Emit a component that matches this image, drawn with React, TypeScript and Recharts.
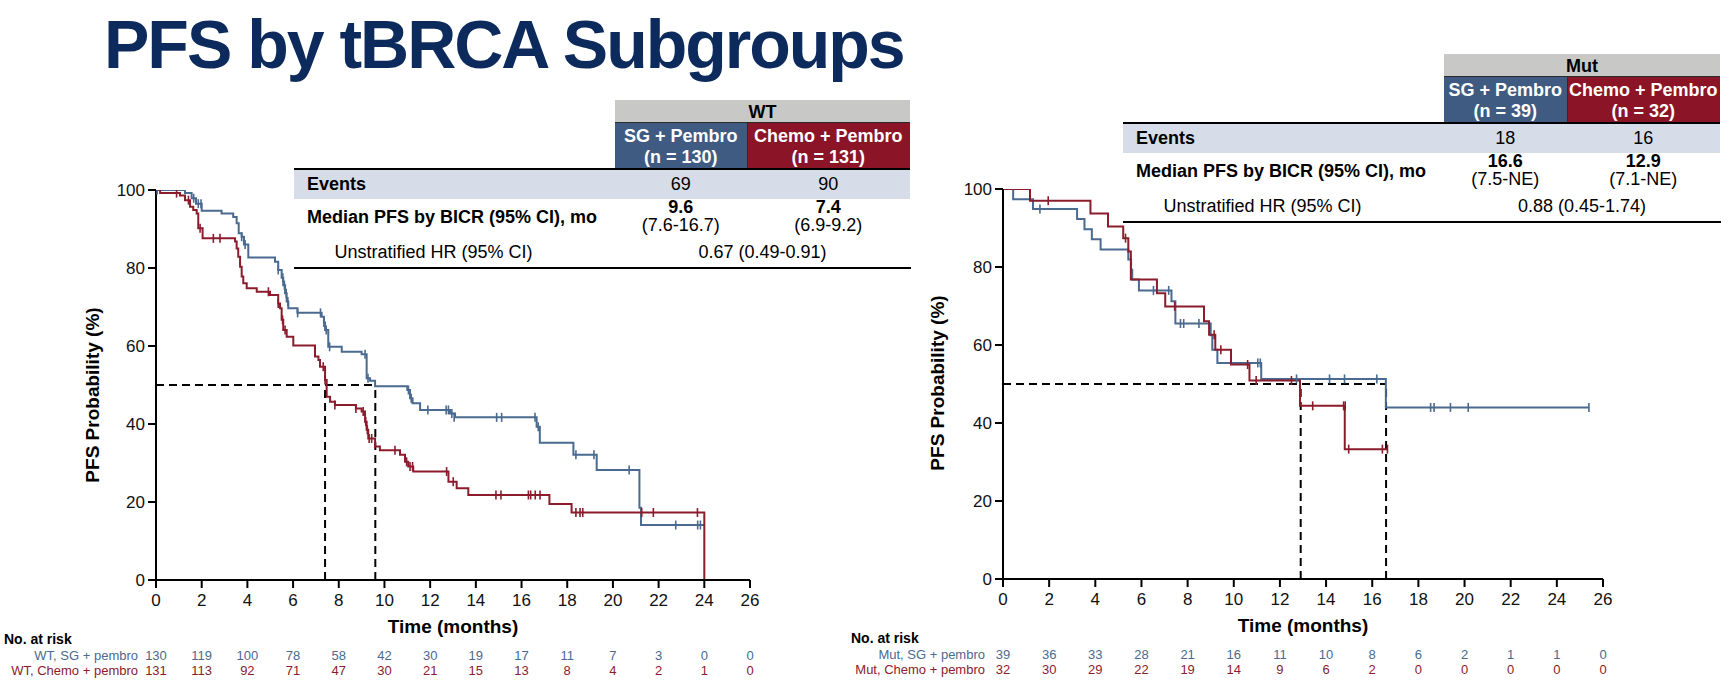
import React from 'react'
import { ComposedChart, Line, Scatter, XAxis, YAxis, ReferenceLine } from 'recharts'

const FONT = '"Liberation Sans", Arial, Helvetica, sans-serif'
const NAVY = '#0c2a5b'
const BLUE = '#4a6a90'
const RED = '#8a1c2c'
const HEAD_BLUE = '#3f5b82'
const HEAD_RED = '#8b1526'
const HEAD_GRAY = '#c8c9c7'
const BAND = '#d6dde8'

const monthTicks = [0, 2, 4, 6, 8, 10, 12, 14, 16, 18, 20, 22, 24, 26]
const pctTicks = [0, 20, 40, 60, 80, 100]

// KM steps: [month, PFS %] -- survival drops to the value at that month
const wtSgSteps: [number, number][] = [
  [0, 100], [1.27, 99.2], [1.56, 97.9], [1.75, 96.5], [2.0, 94.7], [2.87, 94.0], [3.38, 93.1],
  [3.53, 91.5], [3.62, 88.9], [3.75, 88.0], [3.85, 86.0], [4.04, 82.7], [5.21, 81.6], [5.35, 79.5],
  [5.5, 77.5], [5.57, 75.6], [5.65, 73.5], [5.72, 71.4], [5.79, 69.7], [6.19, 68.5], [7.25, 67.5],
  [7.35, 66.0], [7.4, 64.1], [7.54, 59.8], [8.13, 58.5], [9.0, 57.9], [9.22, 51.7], [9.37, 51.1],
  [9.59, 49.7], [11.0, 48.7], [11.12, 46.6], [11.23, 45.3], [11.56, 43.6], [12.87, 42.7],
  [13.09, 41.7], [16.66, 39.3], [16.8, 35.2], [18.27, 32.1], [19.29, 28.2], [21.16, 18.5],
  [21.23, 14.1], [24.0, 14.1],
]
const wtChemoSteps: [number, number][] = [
  [0, 100], [0.18, 99.2], [1.05, 98.6], [1.27, 97.4], [1.49, 95.7], [1.63, 94.9], [1.78, 94.0],
  [1.85, 90.2], [2.04, 87.6], [3.46, 86.8], [3.53, 85.0], [3.6, 82.9], [3.68, 80.3], [3.75, 77.8],
  [3.82, 76.1], [3.97, 74.8], [4.41, 73.9], [4.99, 73.1], [5.35, 70.9], [5.43, 69.7], [5.5, 66.7],
  [5.57, 64.1], [5.72, 62.4], [6.01, 60.1], [6.96, 57.3], [7.11, 56.4], [7.18, 54.7], [7.4, 51.3],
  [7.47, 47.0], [7.62, 45.7], [7.83, 44.9], [8.75, 44.0], [9.0, 43.2], [9.15, 40.6], [9.22, 38.5],
  [9.29, 36.3], [9.59, 34.2], [9.8, 33.3], [10.68, 32.1], [10.9, 30.3], [11.04, 29.1],
  [11.26, 27.8], [12.8, 25.2], [13.16, 23.5], [13.67, 21.8], [17.22, 19.5], [18.19, 17.3],
  [24.0, 0],
]
const mutSgSteps: [number, number][] = [
  [0, 100], [0.44, 97.4], [1.3, 94.9], [3.21, 92.3], [3.53, 89.7], [3.85, 87.1], [4.23, 84.5],
  [5.43, 81.9], [5.55, 79.3], [5.6, 76.8], [5.89, 74.0], [7.3, 71.2], [7.47, 65.5], [9.0, 62.5],
  [9.07, 58.8], [9.29, 55.4], [11.19, 51.3], [16.59, 44.0], [25.4, 44.0],
]
const mutChemoSteps: [number, number][] = [
  [0, 100], [1.17, 97.0], [3.79, 93.7], [4.55, 90.4], [5.21, 87.4], [5.43, 84.0], [5.54, 76.8],
  [6.67, 73.3], [7.03, 69.9], [8.71, 66.1], [8.93, 62.6], [9.2, 58.8], [9.88, 55.0],
  [10.68, 50.9], [12.87, 44.4], [14.81, 33.3], [16.68, 33.3],
]

// censored patients
const wtSgCensored: [number, number][] = [
  [0.05, 100], [1.65, 97.9], [1.85, 96.5], [1.97, 96.5], [3.75, 88.0], [3.9, 86.0], [5.35, 79.5],
  [5.55, 77.5], [5.62, 75.6], [5.7, 73.5], [5.77, 71.4], [6.2, 68.5], [7.2, 68.5], [7.35, 66.0],
  [7.45, 64.1], [7.6, 59.8], [9.15, 57.9], [9.28, 51.7], [11.05, 48.7], [11.17, 46.6],
  [11.9, 43.6], [12.7, 43.6], [12.8, 43.6], [12.95, 42.7], [13.05, 41.7], [14.91, 41.7],
  [15.13, 41.7], [16.59, 41.7], [16.73, 39.3], [18.38, 32.1], [19.17, 32.1], [20.71, 28.2],
  [22.75, 14.1], [23.71, 14.1], [23.83, 14.1],
]
const wtChemoCensored: [number, number][] = [
  [0.9, 99.2], [1.42, 97.4], [1.93, 90.2], [2.51, 87.6], [2.8, 87.6], [4.92, 73.9], [5.35, 70.9],
  [5.54, 66.7], [5.65, 64.1], [7.32, 54.7], [7.4, 51.3], [7.83, 44.9], [8.75, 44.0], [9.07, 43.2],
  [9.18, 40.6], [9.25, 38.5], [9.33, 36.3], [9.44, 36.3], [10.46, 33.3], [10.97, 30.3],
  [11.12, 29.1], [11.23, 29.1], [12.72, 27.8], [13.01, 25.2], [14.88, 21.8], [15.1, 21.8],
  [16.3, 21.8], [16.4, 21.8], [16.6, 21.8], [16.81, 21.8], [18.38, 17.3], [18.56, 17.3],
  [18.68, 17.3], [21.26, 17.3], [21.77, 17.3], [23.7, 17.3],
]
const mutSgCensored: [number, number][] = [
  [1.6, 94.9], [6.52, 74.0], [7.18, 74.0], [7.69, 65.5], [7.83, 65.5], [8.49, 65.5],
  [11.04, 55.4], [11.15, 55.4], [12.72, 51.3], [14.15, 51.3], [14.8, 51.3], [16.2, 51.3],
  [18.53, 44.0], [18.68, 44.0], [19.39, 44.0], [20.16, 44.0], [25.39, 44.0],
]
const mutChemoCensored: [number, number][] = [
  [1.96, 97.0], [5.31, 87.4], [7.44, 69.9], [9.15, 62.6], [9.44, 58.8], [10.6, 55.0],
  [10.97, 50.9], [12.5, 50.9], [13.42, 44.4], [14.76, 44.4], [14.83, 44.4], [14.98, 33.3],
  [16.44, 33.3], [16.66, 33.3],
]

// number at risk, one per month tick
const wtSgAtRisk = [130, 119, 100, 78, 58, 42, 30, 19, 17, 11, 7, 3, 0, 0]
const wtChemoAtRisk = [131, 113, 92, 71, 47, 30, 21, 15, 13, 8, 4, 2, 1, 0]
const mutSgAtRisk = [39, 36, 33, 28, 21, 16, 11, 10, 8, 6, 2, 1, 1, 0]
const mutChemoAtRisk = [32, 30, 29, 22, 19, 14, 9, 6, 2, 0, 0, 0, 0, 0]

// medians (months): [SG, Chemo]
const wtMedians = [9.6, 7.4]
const mutMedians = [16.6, 12.9]

// summary tables
const wtN = [130, 131]
const wtEvents = [69, 90]
const wtMedianText = ['9.6', '7.4']
const wtMedianCi = ['(7.6-16.7)', '(6.9-9.2)']
const wtHr = '0.67 (0.49-0.91)'
const mutN = [39, 32]
const mutEvents = [18, 16]
const mutMedianText = ['16.6', '12.9']
const mutMedianCi = ['(7.5-NE)', '(7.1-NE)']
const mutHr = '0.88 (0.45-1.74)'

const toPts = (a: [number, number][]) => a.map(([t, s]) => ({ t, s }))

interface Series {
  label: string
  color: string
  steps: [number, number][]
  censored: [number, number][]
  atRisk: number[]
}

interface PanelProps {
  left: number
  top: number
  width: number
  marginRight: number
  yAxisWidth: number
  yTitleX: number
  yTitleDy: number
  series: Series[]
  medians: number[]
}

const KMPanel: React.FC<PanelProps> = ({ left, top, width, marginRight, yAxisWidth, yTitleX, yTitleDy, series, medians }) => {
  const plotH = 390
  const xAxisH = 107
  const height = 20 + plotH + xAxisH

  const renderTick = (p: any) => {
    const idx = monthTicks.indexOf(p.payload.value)
    return (
      <g>
        <text x={p.x} y={p.y + 12} textAnchor="middle" dominantBaseline="central" fontSize={17} fill="#111" fontFamily={FONT}>
          {p.payload.value}
        </text>
        {idx === 0 && (
          <text x={p.x - 152} y={p.y + 51} dominantBaseline="central" fontSize={14} fontWeight="bold" fill="#000" fontFamily={FONT}>
            No. at risk
          </text>
        )}
        {series.map((s, i) => (
          <g key={i}>
            {idx === 0 && (
              <text x={p.x - 18} y={p.y + 67 + i * 15} textAnchor="end" dominantBaseline="central" fontSize={13} fill={s.color} fontFamily={FONT}>
                {s.label}
              </text>
            )}
            <text x={p.x} y={p.y + 67 + i * 15} textAnchor="middle" dominantBaseline="central" fontSize={13} fill={s.color} fontFamily={FONT}>
              {s.atRisk[idx]}
            </text>
          </g>
        ))}
      </g>
    )
  }

  const xTitle = (p: any) => {
    const vb = p.viewBox || { x: yAxisWidth, y: 20 + plotH, width: width - yAxisWidth - marginRight }
    return (
      <text x={vb.x + vb.width / 2} y={vb.y + 46} textAnchor="middle" dominantBaseline="central" fontSize={19} fontWeight="bold" fill="#000" fontFamily={FONT}>
        Time (months)
      </text>
    )
  }

  const yTitle = (p: any) => {
    const vb = p.viewBox || { x: 0, y: 20, height: plotH }
    const cx = vb.x + yTitleX
    const cy = vb.y + vb.height / 2 + yTitleDy
    return (
      <text x={cx} y={cy} transform={`rotate(-90, ${cx}, ${cy})`} textAnchor="middle" dominantBaseline="central" fontSize={19} fontWeight="bold" fill="#000" fontFamily={FONT}>
        PFS Probability (%)
      </text>
    )
  }

  const censorMark = (color: string) => (p: any) => (
    <line x1={p.cx} x2={p.cx} y1={p.cy - 4.5} y2={p.cy + 4.5} stroke={color} strokeWidth={1.6} />
  )

  return (
    <div style={{ position: 'absolute', left, top }}>
      <ComposedChart width={width} height={height} margin={{ top: 20, right: marginRight, left: 0, bottom: 0 }}>
        <XAxis
          dataKey="t"
          type="number"
          domain={[0, 26]}
          ticks={monthTicks}
          interval={0}
          allowDataOverflow
          height={xAxisH}
          tickSize={8}
          tickMargin={0}
          axisLine={{ stroke: '#000', strokeWidth: 2 }}
          tickLine={{ stroke: '#000', strokeWidth: 2 }}
          tick={renderTick}
          label={xTitle}
        />
        <YAxis
          type="number"
          domain={[0, 100]}
          ticks={pctTicks}
          interval={0}
          allowDataOverflow
          width={yAxisWidth}
          tickSize={8}
          tickMargin={3}
          axisLine={{ stroke: '#000', strokeWidth: 2 }}
          tickLine={{ stroke: '#000', strokeWidth: 2 }}
          tick={{ fontSize: 17, fill: '#111', fontFamily: FONT }}
          label={yTitle}
        />
        <ReferenceLine
          segment={[{ x: 0, y: 50 }, { x: Math.max(...medians), y: 50 }]}
          stroke="#000"
          strokeWidth={2}
          strokeDasharray="8 5"
          ifOverflow="visible"
        />
        {medians.map((m, i) => (
          <ReferenceLine
            key={`med-${i}`}
            segment={[{ x: m, y: 0 }, { x: m, y: 50 }]}
            stroke="#000"
            strokeWidth={2}
            strokeDasharray="8 5"
            ifOverflow="visible"
          />
        ))}
        {series.map((s, i) => (
          <Line
            key={`line-${i}`}
            data={toPts(s.steps)}
            dataKey="s"
            type="stepAfter"
            stroke={s.color}
            strokeWidth={2}
            dot={false}
            activeDot={false}
            isAnimationActive={false}
          />
        ))}
        {series.map((s, i) => (
          <Scatter
            key={`cens-${i}`}
            data={toPts(s.censored)}
            dataKey="s"
            shape={censorMark(s.color)}
            isAnimationActive={false}
          />
        ))}
      </ComposedChart>
    </div>
  )
}

interface TableProps {
  L: number
  lineX: number
  colStart: number
  colMid: number
  colEnd: number
  group: string
  n: number[]
  events: number[]
  median: string[]
  ci: string[]
  hr: string
}

const Txt: React.FC<{ x: number; y: number; size?: number; bold?: boolean; color?: string; center?: boolean; children: React.ReactNode }> = ({
  x, y, size = 18, bold = false, color = '#000', center = false, children,
}) => (
  <div
    style={{
      position: 'absolute',
      left: x,
      top: y - size,
      height: size * 2,
      lineHeight: `${size * 2}px`,
      fontSize: size,
      fontWeight: bold ? 'bold' : 'normal',
      color,
      whiteSpace: 'nowrap',
      transform: center ? 'translateX(-50%)' : undefined,
    }}
  >
    {children}
  </div>
)

const SummaryTable: React.FC<TableProps> = ({ L, lineX, colStart, colMid, colEnd, group, n, events, median, ci, hr }) => {
  const c1 = (colStart + colMid) / 2
  const c2 = (colMid + colEnd) / 2
  const cAll = (colStart + colEnd) / 2
  const box = (x: number, y: number, w: number, h: number, bg: string) => (
    <div style={{ position: 'absolute', left: x, top: y, width: w, height: h, background: bg }} />
  )
  return (
    <>
      {box(colStart, L - 68.5, colEnd - colStart, 68, '#2b2b2b')}
      {box(colStart, L - 68.5, colEnd - colStart, 22, HEAD_GRAY)}
      {box(colStart, L - 45.5, colMid - colStart, 45, HEAD_BLUE)}
      {box(colMid + 1, L - 45.5, colEnd - colMid - 1, 45, HEAD_RED)}
      {box(lineX, L - 1, colEnd - lineX, 2.2, '#000')}
      {box(lineX, L + 1, colEnd - lineX, 29.5, BAND)}
      {box(lineX, L + 98, colEnd - lineX + 1, 2, '#000')}
      <Txt x={cAll} y={L - 57} bold center>{group}</Txt>
      <Txt x={c1} y={L - 33} bold center color="#fff">SG + Pembro</Txt>
      <Txt x={c1} y={L - 12} bold center color="#fff">{`(n = ${n[0]})`}</Txt>
      <Txt x={c2} y={L - 33} bold center color="#fff">Chemo + Pembro</Txt>
      <Txt x={c2} y={L - 12} bold center color="#fff">{`(n = ${n[1]})`}</Txt>
      <Txt x={lineX + 13} y={L + 15.5} bold>Events</Txt>
      <Txt x={c1} y={L + 15.5} center>{events[0]}</Txt>
      <Txt x={c2} y={L + 15.5} center>{events[1]}</Txt>
      <Txt x={lineX + 13} y={L + 48} bold>Median PFS by BICR (95% CI), mo</Txt>
      <Txt x={c1} y={L + 38.5} bold center>{median[0]}</Txt>
      <Txt x={c1} y={L + 56} center>{ci[0]}</Txt>
      <Txt x={c2} y={L + 38.5} bold center>{median[1]}</Txt>
      <Txt x={c2} y={L + 56} center>{ci[1]}</Txt>
      <Txt x={lineX + 40.5} y={L + 83}>Unstratified HR (95% CI)</Txt>
      <Txt x={cAll} y={L + 83} center>{hr}</Txt>
    </>
  )
}

export default function App() {
  return (
    <div
      style={{
        position: 'absolute',
        left: 0,
        top: 0,
        width: 1731,
        height: 687,
        overflow: 'hidden',
        background: '#fff',
        fontFamily: FONT,
      }}
    >
      <div
        style={{
          position: 'absolute',
          left: 104,
          top: 10,
          fontSize: 68,
          lineHeight: '68px',
          fontWeight: 'bold',
          letterSpacing: -2,
          color: NAVY,
          whiteSpace: 'nowrap',
        }}
      >
        PFS by tBRCA Subgroups
      </div>

      <KMPanel
        left={0}
        top={170}
        width={780}
        marginRight={30}
        yAxisWidth={156}
        yTitleX={92}
        yTitleDy={10}
        medians={wtMedians}
        series={[
          { label: 'WT, SG + pembro', color: BLUE, steps: wtSgSteps, censored: wtSgCensored, atRisk: wtSgAtRisk },
          { label: 'WT, Chemo + pembro', color: RED, steps: wtChemoSteps, censored: wtChemoCensored, atRisk: wtChemoAtRisk },
        ]}
      />
      <KMPanel
        left={840}
        top={169}
        width={800}
        marginRight={37}
        yAxisWidth={163}
        yTitleX={97}
        yTitleDy={-1}
        medians={mutMedians}
        series={[
          { label: 'Mut, SG + pembro', color: BLUE, steps: mutSgSteps, censored: mutSgCensored, atRisk: mutSgAtRisk },
          { label: 'Mut, Chemo + pembro', color: RED, steps: mutChemoSteps, censored: mutChemoCensored, atRisk: mutChemoAtRisk },
        ]}
      />

      <SummaryTable
        L={168.5}
        lineX={294}
        colStart={615}
        colMid={746.5}
        colEnd={910}
        group="WT"
        n={wtN}
        events={wtEvents}
        median={wtMedianText}
        ci={wtMedianCi}
        hr={wtHr}
      />
      <SummaryTable
        L={122.5}
        lineX={1123}
        colStart={1444}
        colMid={1566.5}
        colEnd={1720}
        group="Mut"
        n={mutN}
        events={mutEvents}
        median={mutMedianText}
        ci={mutMedianCi}
        hr={mutHr}
      />
    </div>
  )
}
